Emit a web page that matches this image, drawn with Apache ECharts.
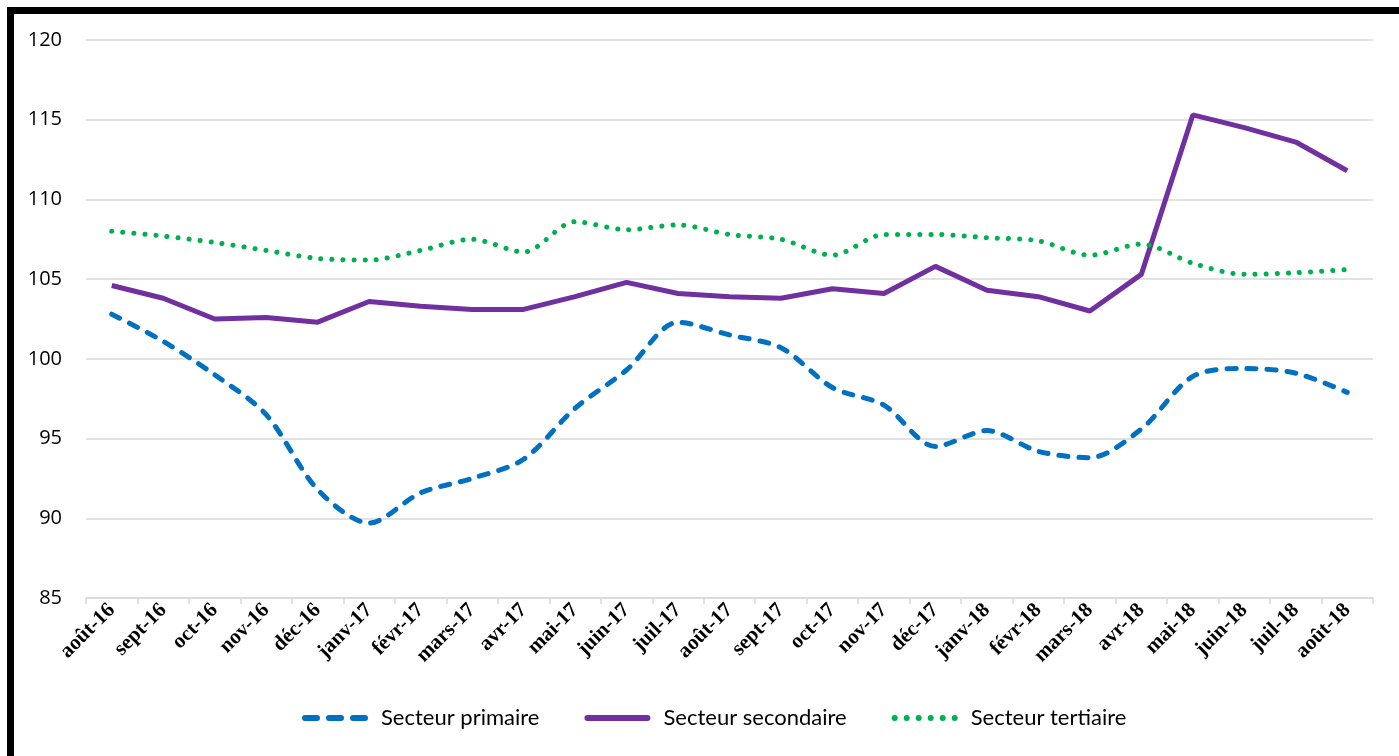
<!DOCTYPE html>
<html>
<head>
<meta charset="utf-8">
<script src="https://cdn.jsdelivr.net/npm/echarts@6/dist/echarts.min.js"></script>
<style>
html,body{margin:0;padding:0;background:#fff;overflow:hidden;}
#chart{width:1399px;height:756px;position:absolute;left:0;top:0;}
#frame{position:absolute;left:7px;top:7px;width:1420px;height:780px;border:7px solid #000;box-sizing:border-box;pointer-events:none;}
</style>
</head>
<body>
<div id="chart"></div>
<div id="frame"></div>
<script>
const categories = ['août-16','sept-16','oct-16','nov-16','déc-16','janv-17','févr-17','mars-17','avr-17','mai-17','juin-17','juil-17','août-17','sept-17','oct-17','nov-17','déc-17','janv-18','févr-18','mars-18','avr-18','mai-18','juin-18','juil-18','août-18'];
const primaire = [102.8,101.1,99.0,96.5,91.8,89.7,91.6,92.5,93.7,96.9,99.3,102.3,101.5,100.7,98.2,97.1,94.5,95.5,94.2,93.8,95.6,98.9,99.4,99.1,97.9];
const secondaire = [104.6,103.8,102.5,102.6,102.3,103.6,103.3,103.1,103.1,103.9,104.8,104.1,103.9,103.8,104.4,104.1,105.8,104.3,103.9,103.0,105.3,115.3,114.5,113.6,111.8];
const tertiaire = [108.0,107.7,107.3,106.8,106.3,106.2,106.8,107.5,106.7,108.6,108.1,108.4,107.8,107.5,106.5,107.8,107.8,107.6,107.4,106.5,107.2,106.0,105.3,105.4,105.6];
const yTicks = {min:85, max:120, interval:5};

// legend icons (shape only, drawn in a 66 x 6 box)
function pill(x, w){ return 'M'+(x+3)+' 0 L'+(x+w-3)+' 0 A3 3 0 0 1 '+(x+w-3)+' 6 L'+(x+3)+' 6 A3 3 0 0 1 '+(x+3)+' 0 Z '; }
function dot(cx){ return 'M'+(cx-3)+' 3 A3 3 0 1 1 '+(cx+3)+' 3 A3 3 0 1 1 '+(cx-3)+' 3 Z '; }
const iconDash = 'path://' + pill(0,18) + pill(24,18) + pill(48,18);
const iconSolid = 'path://' + pill(0,66);
let d=''; for(let i=0;i<6;i++){ d += dot(3 + i*12); }
const iconDot = 'path://' + d;

const chart = echarts.init(document.getElementById('chart'));
chart.setOption({
  animation:false,
  backgroundColor:'#fff',
  grid:{left:86,right:26,top:40,bottom:158,containLabel:false},
  legend:{
    bottom:22,
    left:297,
    itemWidth:66,
    itemHeight:6,
    itemGap:45,
    textStyle:{fontFamily:'Lato',fontSize:22,color:'#000',padding:[0,0,0,8]},
    data:[
      {name:'Secteur primaire',icon:iconDash},
      {name:'Secteur secondaire',icon:iconSolid},
      {name:'Secteur tertiaire',icon:iconDot}
    ]
  },
  xAxis:{
    type:'category',
    data:categories,
    boundaryGap:true,
    axisLine:{lineStyle:{color:'#d9d9d9',width:1.5}},
    axisTick:{show:true,length:6,lineStyle:{color:'#d9d9d9',width:1.5}},
    axisLabel:{rotate:45,interval:0,margin:9,fontFamily:'Liberation Serif',fontWeight:'bold',fontSize:21,color:'#000'}
  },
  yAxis:{
    type:'value',
    min:yTicks.min,max:yTicks.max,interval:yTicks.interval,
    axisLine:{show:false},
    axisTick:{show:false},
    axisLabel:{fontFamily:'Open Sans',fontSize:20,color:'#000',margin:24},
    splitLine:{lineStyle:{color:'#d9d9d9',width:1.5}}
  },
  series:[
    {name:'Secteur primaire',type:'line',data:primaire,smooth:0.3,showSymbol:false,symbol:'none',
     itemStyle:{color:'#0070c0'},
     lineStyle:{color:'#0070c0',width:5,type:[9,11],cap:'round'}},
    {name:'Secteur secondaire',type:'line',data:secondaire,smooth:false,showSymbol:false,symbol:'none',
     itemStyle:{color:'#7030a0'},
     lineStyle:{color:'#7030a0',width:5,type:'solid'}},
    {name:'Secteur tertiaire',type:'line',data:tertiaire,smooth:0.3,showSymbol:false,symbol:'none',
     itemStyle:{color:'#00b050'},
     lineStyle:{color:'#00b050',width:5,type:[0.1,11],cap:'round'}}
  ]
});
</script>
</body>
</html>
